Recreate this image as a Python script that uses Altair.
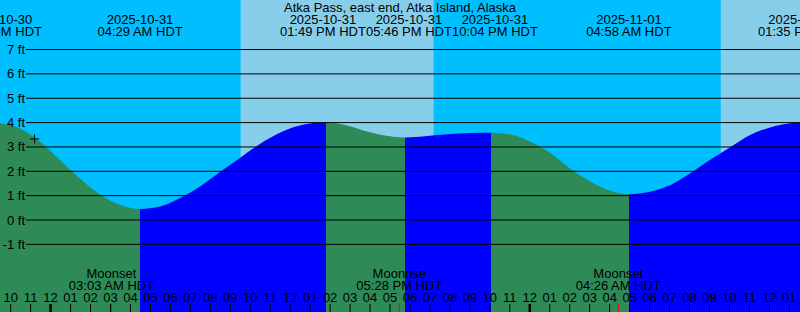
import altair as alt
import pandas as pd

STATION = "Atka Pass, east end, Atka Island, Alaska"
REF = pd.Timestamp("2025-10-31 00:00")
WINDOW = ["2025-10-30 21:28", "2025-11-01 13:32"]

# tide extrema
event_times = ["2025-10-30 21:25", "2025-10-31 04:29", "2025-10-31 13:49",
               "2025-10-31 17:46", "2025-10-31 22:04", "2025-11-01 04:58",
               "2025-11-01 13:35"]
event_ft = [3.98, 0.45, 4.01, 3.39, 3.58, 1.06, 4.00]

# curve readings between extrema
curve_times = ["2025-10-30 22:28", "2025-10-30 23:28", "2025-10-31 00:28",
               "2025-10-31 01:28", "2025-10-31 02:28", "2025-10-31 03:28",
               "2025-10-31 05:29", "2025-10-31 06:29", "2025-10-31 07:29",
               "2025-10-31 08:29", "2025-10-31 09:29", "2025-10-31 10:29",
               "2025-10-31 11:29", "2025-10-31 12:29",
               "2025-10-31 14:45", "2025-10-31 15:45", "2025-10-31 16:45",
               "2025-10-31 18:45", "2025-10-31 19:45", "2025-10-31 20:45",
               "2025-10-31 23:04", "2025-11-01 00:04", "2025-11-01 01:04",
               "2025-11-01 02:04", "2025-11-01 03:04", "2025-11-01 04:04",
               "2025-11-01 06:01", "2025-11-01 07:01", "2025-11-01 08:01",
               "2025-11-01 09:01", "2025-11-01 10:01", "2025-11-01 11:02",
               "2025-11-01 12:02", "2025-11-01 13:02"]
curve_ft = [3.76, 3.22, 2.46, 1.70, 1.05, 0.63,
            0.55, 0.90, 1.38, 1.97, 2.55, 3.12, 3.58, 3.88,
            3.90, 3.66, 3.47,
            3.44, 3.51, 3.56,
            3.51, 3.20, 2.73, 2.08, 1.56, 1.19,
            1.16, 1.43, 1.91, 2.46, 2.98, 3.49, 3.80, 3.97]

sunrise = ["2025-10-31 09:31", "2025-11-01 09:34"]
sunset = ["2025-10-31 19:11", "2025-11-01 19:08"]

moon_times = ["2025-10-31 03:03", "2025-10-31 17:28", "2025-11-01 04:26"]
moon_names = ["Moonset", "Moonrise", "Moonset"]

grid_ft = [-1, 0, 1, 2, 3, 4, 5, 6, 7]

mark_time = ["2025-10-30 23:12"]
mark_ft = [3.33]

Y_DOMAIN = [-3.778, 9.035]

NIGHT = "#00BFFF"
DAY = "#87CEEB"
FLOOD = "#0000FF"
EBB = "#2E8B57"
FONT = "Liberation Sans"
FS = 13


def hours(s):
    return (pd.to_datetime(pd.Series(s)) - REF) / pd.Timedelta(hours=1)


x0, x1 = hours(WINDOW).tolist()
xs = alt.Scale(domain=[x0, x1], nice=False, zero=False)
ys = alt.Scale(domain=Y_DOMAIN, nice=False, zero=False)

# curve
ev = pd.DataFrame({"h": hours(event_times), "ft": event_ft})
cv = pd.DataFrame({"h": hours(curve_times), "ft": curve_ft})
curve = pd.concat([ev, cv]).sort_values("h").reset_index(drop=True)

t0, tN = ev["h"].iloc[0], ev["h"].iloc[-1]
stops = []
for i in range(len(ev) - 1):
    col = EBB if ev["ft"].iloc[i + 1] < ev["ft"].iloc[i] else FLOOD
    a = (ev["h"].iloc[i] - t0) / (tN - t0)
    b = (ev["h"].iloc[i + 1] - t0) / (tN - t0)
    stops.append(alt.GradientStop(color=col, offset=float(a)))
    stops.append(alt.GradientStop(color=col, offset=float(b)))
grad = alt.LinearGradient(gradient="linear", stops=stops, x1=0, x2=1, y1=0, y2=0)

area = alt.Chart(curve).mark_area(interpolate="monotone", clip=True, color=grad).encode(
    x=alt.X("h:Q", scale=xs, axis=None),
    y=alt.Y("ft:Q", scale=ys, axis=None),
    y2=alt.Y2(datum=Y_DOMAIN[0]),
)

sun = pd.DataFrame({"rise": hours(sunrise), "set": hours(sunset)})
day = alt.Chart(sun).mark_rect(color=DAY, clip=True).encode(
    x=alt.X("rise:Q", scale=xs, axis=None), x2="set:Q"
)

grid = pd.DataFrame({"ft": grid_ft, "label": [f"{v} ft" for v in grid_ft]})
rules = alt.Chart(grid).mark_rule(color="black", strokeWidth=1).encode(
    y=alt.Y("ft:Q", scale=ys, axis=None), x=alt.value(26), x2=alt.value(800)
)
ylabels = alt.Chart(grid).mark_text(align="right", baseline="alphabetic", dy=4.5,
                                    font=FONT, fontSize=FS, color="black").encode(
    y=alt.Y("ft:Q", scale=ys, axis=None), x=alt.value(25), text="label:N"
)

cross = alt.Chart(pd.DataFrame({"h": hours(mark_time), "ft": mark_ft})).mark_point(
    shape="M-1,0L1,0M0,-1L0,1", size=81, filled=False, stroke="black",
    strokeWidth=1, opacity=1
).encode(x=alt.X("h:Q", scale=xs, axis=None), y=alt.Y("ft:Q", scale=ys, axis=None))

# event labels with overlap avoidance
LW = 86 / (800 / (x1 - x0))
pos = ev["h"].tolist()
moved = [False] * len(pos)
for i in range(1, len(pos)):
    d = LW - (pos[i] - pos[i - 1])
    if d > 0:
        if not moved[i - 1]:
            pos[i - 1] -= d / 2
            pos[i] += d / 2
        else:
            pos[i] += d
        moved[i] = True
ets = pd.to_datetime(pd.Series(event_times))
evl = pd.DataFrame({
    "p": pos,
    "date": ets.dt.strftime("%Y-%m-%d"),
    "time": ets.dt.strftime("%I:%M %p HDT"),
})
tstyle = dict(align="center", baseline="alphabetic", font=FONT, fontSize=FS, color="black")
ev_date = alt.Chart(evl).mark_text(**tstyle).encode(
    x=alt.X("p:Q", scale=xs, axis=None), y=alt.value(24), text="date:N")
ev_time = alt.Chart(evl).mark_text(**tstyle).encode(
    x=alt.X("p:Q", scale=xs, axis=None), y=alt.value(36), text="time:N")

title = alt.Chart(pd.DataFrame({"t": [STATION]})).mark_text(**tstyle).encode(
    x=alt.value(400), y=alt.value(12), text="t:N")

# moon events
mts = pd.to_datetime(pd.Series(moon_times))
moon = pd.DataFrame({"h": hours(moon_times), "name": moon_names,
                     "time": mts.dt.strftime("%I:%M %p HDT")})
moon_name = alt.Chart(moon).mark_text(**tstyle).encode(
    x=alt.X("h:Q", scale=xs, axis=None), y=alt.value(278), text="name:N")
moon_time = alt.Chart(moon).mark_text(**tstyle).encode(
    x=alt.X("h:Q", scale=xs, axis=None), y=alt.value(290), text="time:N")

# hour ticks
hrs = pd.date_range("2025-10-30 22:00", "2025-11-01 13:00", freq="h")
hdf = pd.DataFrame({"h": (hrs - REF) / pd.Timedelta(hours=1),
                    "lab": hrs.strftime("%I"),
                    "mid": hrs.hour == 0})
hour_lab = alt.Chart(hdf).mark_text(**tstyle).encode(
    x=alt.X("h:Q", scale=xs, axis=None), y=alt.value(301.5), text="lab:N")
hour_tick = alt.Chart(hdf[~hdf["mid"]]).mark_rule(color="black", strokeWidth=1).encode(
    x=alt.X("h:Q", scale=xs, axis=None), y=alt.value(304), y2=alt.value(312))
mid_tick = alt.Chart(hdf[hdf["mid"]]).mark_rule(color="black", strokeWidth=2.5).encode(
    x=alt.X("h:Q", scale=xs, axis=None), y=alt.value(304), y2=alt.value(312))
moon_tick = alt.Chart(moon).mark_rule(color="red", strokeWidth=1).encode(
    x=alt.X("h:Q", scale=xs, axis=None), y=alt.value(304), y2=alt.value(312))

chart = alt.layer(
    day, area, rules, ylabels, cross, title, ev_date, ev_time,
    moon_name, moon_time, hour_lab, hour_tick, mid_tick, moon_tick
).properties(
    width=800, height=312, padding=0, background=NIGHT,
    autosize=alt.AutoSizeParams(type="none")
).configure_view(stroke=None, fill=NIGHT)

chart.save("out.html", embed_options={"renderer": "svg", "actions": False})
